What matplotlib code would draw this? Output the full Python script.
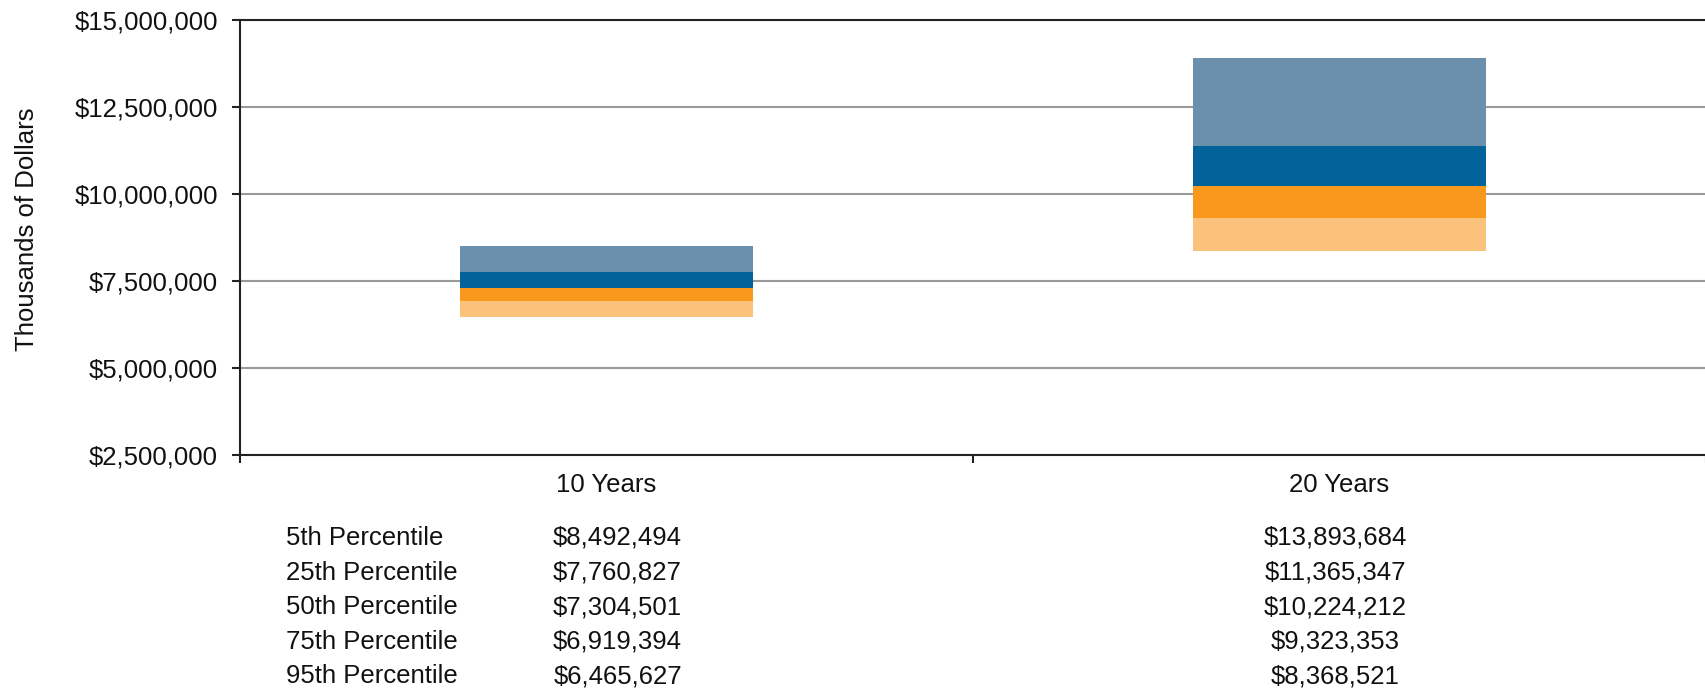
import numpy as np
import matplotlib
matplotlib.use('Agg')
import matplotlib.pyplot as plt
from matplotlib.ticker import FuncFormatter
import matplotlib.transforms as mtransforms

# data
categories = ['10 Years', '20 Years']
row_labels = ['5th Percentile', '25th Percentile', '50th Percentile',
              '75th Percentile', '95th Percentile']
p05 = [8492494, 13893684]
p25 = [7760827, 11365347]
p50 = [7304501, 10224212]
p75 = [6919394, 9323353]
p95 = [6465627, 8368521]

# bands from bottom to top
band_colors = ['#FBC27B', '#F8991E', '#02639B', '#6A90AE']

plt.rcParams['font.family'] = ['Liberation Sans', 'DejaVu Sans']

fig = plt.figure(figsize=(17.06, 6.9), dpi=100)
ax = fig.add_axes([240/1706, 235/690, 1466/1706, 435/690])

x = np.arange(len(categories))
bounds = [p95, p75, p50, p25, p05]
for i in range(4):
    lo = np.array(bounds[i])
    hi = np.array(bounds[i + 1])
    ax.bar(x, hi - lo, bottom=lo, width=0.4, color=band_colors[i],
           edgecolor='none', zorder=3)

ax.set_xlim(-0.5, 1.5)
ax.set_ylim(2500000, 15000000)
ax.set_yticks(np.arange(2500000, 15000001, 2500000))
ax.yaxis.set_major_formatter(FuncFormatter(lambda v, p: '${:,.0f}'.format(v)))
ax.grid(axis='y', color='#999999', linewidth=1.5, zorder=0)
ax.set_axisbelow(True)

ax.set_xticks(x)
ax.set_xticklabels(categories)
ax.set_xticks([-0.5, 0.5, 1.5], minor=True)
ax.tick_params(axis='x', which='major', length=0, pad=13, labelsize=18.5,
               colors='#111111')
ax.tick_params(axis='x', which='minor', length=6, width=1.5, direction='out',
               color='#222222')
ax.tick_params(axis='y', length=6, width=1.5, direction='out', labelsize=18.5,
               pad=10, color='#222222', labelcolor='#111111')

for s in ['left', 'bottom', 'top']:
    ax.spines[s].set_color('#222222')
    ax.spines[s].set_linewidth(1.5)
ax.spines['right'].set_visible(False)

ax.set_ylabel('Thousands of Dollars', fontsize=18.5, color='#111111')
ax.yaxis.set_label_coords(-0.137, 0.52)

# data table under the chart
trans = mtransforms.blended_transform_factory(ax.transData, fig.transFigure)
col_offsets = [0.015, -0.006]
row_vals = [p05, p25, p50, p75, p95]
for r, label in enumerate(row_labels):
    y = 1 - (538 + r * 34.6) / 690
    fig.text(286/1706, y, label, fontsize=18.5, color='#111111',
             ha='left', va='center')
    for c in range(len(categories)):
        ax.text(x[c] + col_offsets[c], y, '${:,.0f}'.format(row_vals[r][c]),
                transform=trans, fontsize=18.5, color='#111111',
                ha='center', va='center')

fig.savefig('out.png', dpi=100, facecolor='white')
